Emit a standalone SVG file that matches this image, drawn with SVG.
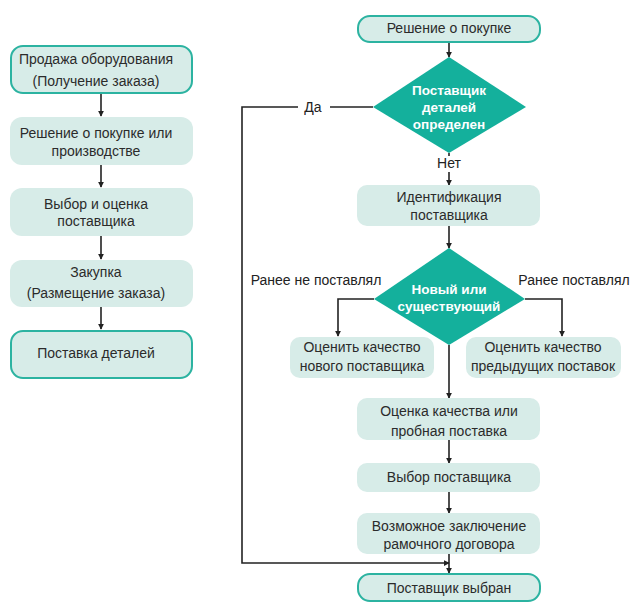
<svg xmlns="http://www.w3.org/2000/svg" width="631" height="603" viewBox="0 0 631 603">
<defs>
<marker id="ah" viewBox="0 0 8 8" refX="7" refY="4" markerWidth="6" markerHeight="6" orient="auto" markerUnits="userSpaceOnUse">
<path d="M0,0 L8,4 L0,8 z" fill="#222"/>
</marker>
<style>
.box{fill:#d7ece8;stroke:none}
.term{fill:#d7ece8;stroke:#2cb3a1;stroke-width:2}
.dia{fill:#14b09c}
.t{font-family:"Liberation Sans","DejaVu Sans",sans-serif;font-size:14px;fill:#2b2b2b;text-anchor:middle}
.w{font-family:"Liberation Sans","DejaVu Sans",sans-serif;font-size:13.5px;fill:#fff;font-weight:bold;text-anchor:middle}
.l{font-family:"Liberation Sans","DejaVu Sans",sans-serif;font-size:14px;fill:#222;text-anchor:middle}
.c{fill:none;stroke:#222;stroke-width:1.6}
</style>
</defs>
<rect width="631" height="603" fill="#fff"/>

<g id="connectors">
<line class="c" x1="101" y1="93" x2="101" y2="116" marker-end="url(#ah)"/>
<line class="c" x1="101" y1="165" x2="101" y2="187" marker-end="url(#ah)"/>
<line class="c" x1="101" y1="236" x2="101" y2="259" marker-end="url(#ah)"/>
<line class="c" x1="101" y1="307" x2="101" y2="329" marker-end="url(#ah)"/>
<line class="c" x1="449" y1="42" x2="449" y2="57" marker-end="url(#ah)"/>
<line class="c" x1="373" y1="107" x2="330" y2="107"/>
<polyline class="c" points="298,107 242,107 242,563 449,563" marker-end="url(#ah)"/>
<line class="c" x1="449" y1="153" x2="449" y2="156"/>
<line class="c" x1="449" y1="172" x2="449" y2="185" marker-end="url(#ah)"/>
<line class="c" x1="449" y1="226" x2="449" y2="248" marker-end="url(#ah)"/>
<polyline class="c" points="374,299 338,299 338,336" marker-end="url(#ah)"/>
<polyline class="c" points="525,299 562,299 562,336" marker-end="url(#ah)"/>
<line class="c" x1="449" y1="345" x2="449" y2="398" marker-end="url(#ah)"/>
<line class="c" x1="449" y1="440" x2="449" y2="463" marker-end="url(#ah)"/>
<line class="c" x1="449" y1="492" x2="449" y2="513" marker-end="url(#ah)"/>
<line class="c" x1="449" y1="554" x2="449" y2="573" marker-end="url(#ah)"/>
<text class="l" x="313" y="112">Да</text>
<text class="l" x="449" y="168">Нет</text>
<text class="l" x="316" y="285">Ранее не поставлял</text>
<text class="l" x="574" y="285">Ранее поставлял</text>
</g>

<g id="n1"><rect class="term" x="11" y="46" width="181" height="47" rx="12"/>
<text class="t" x="96" y="64">Продажа оборудования</text><text class="t" x="96" y="86">(Получение заказа)</text></g>
<g id="n2"><rect class="box" x="10" y="117" width="183" height="48" rx="12"/>
<text class="t" x="96" y="138">Решение о покупке или</text><text class="t" x="96" y="156">производстве</text></g>
<g id="n3"><rect class="box" x="10" y="188" width="183" height="48" rx="12"/>
<text class="t" x="96" y="209">Выбор и оценка</text><text class="t" x="96" y="226">поставщика</text></g>
<g id="n4"><rect class="box" x="10" y="260" width="183" height="47" rx="12"/>
<text class="t" x="96" y="277">Закупка</text><text class="t" x="96" y="298">(Размещение заказа)</text></g>
<g id="n5"><rect class="term" x="11" y="331" width="181" height="47" rx="12"/>
<text class="t" x="96" y="358">Поставка деталей</text></g>

<g id="r1"><rect class="term" x="358" y="16" width="182" height="26" rx="12"/>
<text class="t" x="449" y="33">Решение о покупке</text></g>
<g id="d1"><polygon class="dia" points="449,57 526,107 449,153 373,107"/>
<text class="w" x="449" y="95">Поставщик</text><text class="w" x="449" y="112">деталей</text><text class="w" x="449" y="129">определен</text></g>
<g id="r2"><rect class="box" x="357" y="185" width="183" height="41" rx="10"/>
<text class="t" x="449" y="202">Идентификация</text><text class="t" x="449" y="220">поставщика</text></g>
<g id="d2"><polygon class="dia" points="449,248 525,299 449,345 374,299"/>
<text class="w" x="449" y="294">Новый или</text><text class="w" x="449" y="311">существующий</text></g>
<g id="r3"><rect class="box" x="290" y="337" width="144" height="41" rx="10"/>
<text class="t" x="362" y="352">Оценить качество</text><text class="t" x="362" y="371">нового поставщика</text></g>
<g id="r4"><rect class="box" x="466" y="337" width="155" height="41" rx="10"/>
<text class="t" x="543" y="352">Оценить качество</text><text class="t" x="543" y="371">предыдущих поставок</text></g>
<g id="r5"><rect class="box" x="357" y="398" width="183" height="42" rx="10"/>
<text class="t" x="449" y="416">Оценка качества или</text><text class="t" x="449" y="436">пробная поставка</text></g>
<g id="r6"><rect class="box" x="357" y="463" width="183" height="29" rx="10"/>
<text class="t" x="449" y="482">Выбор поставщика</text></g>
<g id="r7"><rect class="box" x="357" y="513" width="183" height="41" rx="10"/>
<text class="t" x="449" y="531">Возможное заключение</text><text class="t" x="449" y="549">рамочного договора</text></g>
<g id="r8"><rect class="term" x="358" y="574" width="182" height="27" rx="12"/>
<text class="t" x="449" y="593">Поставщик выбран</text></g>
</svg>
